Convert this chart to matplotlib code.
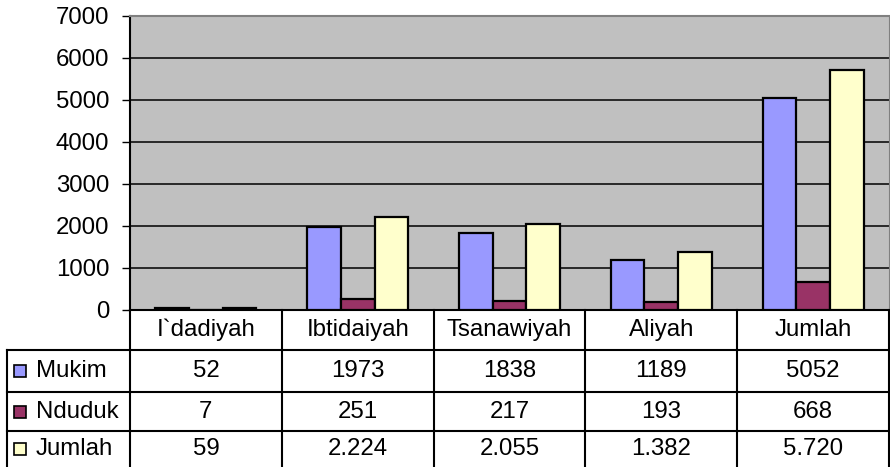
import matplotlib
matplotlib.use('Agg')
import matplotlib.pyplot as plt
import matplotlib.transforms as mtransforms
from matplotlib.patches import Rectangle
import numpy as np

# data
categories = ['I`dadiyah', 'Ibtidaiyah', 'Tsanawiyah', 'Aliyah', 'Jumlah']
series_names = ['Mukim', 'Nduduk', 'Jumlah']
mukim = [52, 1973, 1838, 1189, 5052]
nduduk = [7, 251, 217, 193, 668]
jumlah = [59, 2224, 2055, 1382, 5720]
colors = ['#9999FF', '#993366', '#FFFFCC']

plt.rcParams['font.family'] = ['Liberation Sans', 'DejaVu Sans']
FS = 17.3

W, H = 890, 467
fig = plt.figure(figsize=(W / 100, H / 100), dpi=100)

# plot area in pixels
px_left, px_right, px_top, px_bot = 130, 889, 16, 310
ax = fig.add_axes([px_left / W, (H - px_bot) / H,
                   (px_right - px_left) / W, (px_bot - px_top) / H])
ax.set_facecolor('#C0C0C0')

x = np.arange(len(categories))
bw = 0.222
for i, vals in enumerate([mukim, nduduk, jumlah]):
    ax.bar(x + (i - 1) * bw, vals, width=bw, color=colors[i],
           edgecolor='black', linewidth=1.6, zorder=3)

ax.set_xlim(-0.5, len(categories) - 0.5)
ax.set_ylim(0, 7000)
ax.set_yticks(range(0, 7001, 1000))
ax.set_xticks([])
ax.yaxis.grid(True, color='black', linewidth=1.1)
ax.set_axisbelow(True)
ax.tick_params(axis='y', length=6, width=1, pad=9, labelsize=FS)
ax.spines['left'].set_linewidth(1.5)
ax.spines['bottom'].set_linewidth(1.5)
ax.spines['top'].set_color('#808080')
ax.spines['top'].set_linewidth(1.5)
ax.spines['right'].set_color('#808080')

# data table below the chart
trans = mtransforms.blended_transform_factory(ax.transData, ax.transAxes)
def ay(py):
    return (px_bot - py) / (px_bot - px_top)

unit = (px_right - px_left) / len(categories)
leg_left = -0.5 - (px_left - 7) / unit
rows_px = [310, 350, 392, 431, 467]
line_kw = dict(color='black', linewidth=1.5, transform=trans, clip_on=False)

for py in rows_px[1:4]:
    ax.plot([leg_left, 4.5], [ay(py), ay(py)], **line_kw)
for cx in np.arange(-0.5, 5.0, 1.0):
    ax.plot([cx, cx], [ay(310), ay(467)], **line_kw)
ax.plot([leg_left, leg_left], [ay(350), ay(467)], **line_kw)

# header
for i, c in enumerate(categories):
    ax.text(i, ay((rows_px[0] + rows_px[1]) / 2), c, transform=trans,
            ha='center', va='center', fontsize=FS)

# rows
table_vals = [[str(v) for v in mukim],
              [str(v) for v in nduduk],
              [f'{v:,}'.replace(',', '.') for v in jumlah]]
for r, name in enumerate(series_names):
    yc = (rows_px[r + 1] + rows_px[r + 2]) / 2
    ax.add_patch(Rectangle((leg_left + 7 / unit, ay(yc + 6)), 12 / unit, 12 / 294,
                           facecolor=colors[r], edgecolor='black', linewidth=1.2,
                           transform=trans, clip_on=False))
    ax.text(leg_left + 29 / unit, ay(yc), name, transform=trans,
            ha='left', va='center', fontsize=FS)
    for i, v in enumerate(table_vals[r]):
        ax.text(i, ay(yc), v, transform=trans, ha='center', va='center',
                fontsize=FS)

fig.savefig('out.png', dpi=100)
